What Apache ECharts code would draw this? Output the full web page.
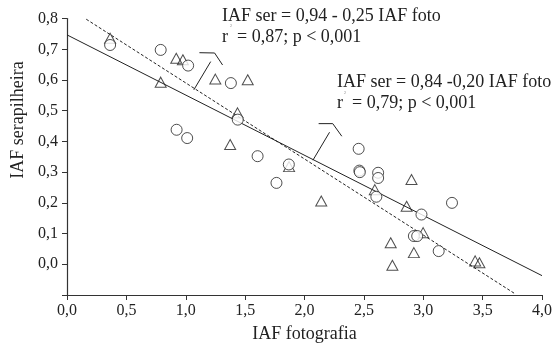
<!DOCTYPE html>
<html>
<head>
<meta charset="utf-8">
<script src="https://cdn.jsdelivr.net/npm/echarts@6/dist/echarts.min.js"></script>
<style>
  html, body { margin: 0; padding: 0; background: #fff; }
  #chart { width: 555px; height: 348px; }
</style>
</head>
<body>
<div id="chart"></div>
<script>
// Leaf area index: litter sampling vs. photographic estimate
const circlePoints = [
  [0.363, 0.714], [0.789, 0.698], [1.02, 0.647], [1.38, 0.590], [1.438, 0.471],
  [0.923, 0.438], [1.012, 0.411], [1.605, 0.352], [1.868, 0.325], [1.764, 0.265],
  [2.456, 0.376], [2.462, 0.305], [2.466, 0.300], [2.62, 0.298], [2.62, 0.281],
  [2.605, 0.220], [3.242, 0.200], [2.985, 0.162], [2.921, 0.092], [2.949, 0.092],
  [3.13, 0.043]
];
const trianglePoints = [
  [0.363, 0.736], [0.92, 0.671], [0.976, 0.666], [0.789, 0.593], [1.249, 0.603],
  [1.522, 0.601], [1.436, 0.493], [1.374, 0.390], [1.87, 0.318], [2.141, 0.206],
  [2.592, 0.243], [2.901, 0.276], [2.86, 0.189], [2.999, 0.103], [2.726, 0.070],
  [2.921, 0.038], [2.74, -0.003], [3.437, 0.011], [3.473, 0.005]
];
// fitted lines (endpoints)
const solidFit = [[0.0, 0.747], [4.0, -0.037]];
const dashedFit = [[0.162, 0.798], [3.777, -0.097]];
// annotation leader lines
const leaderA = [[1.068, 0.568], [1.21, 0.660]];
const hookA = [[1.115, 0.689], [1.243, 0.688], [1.31, 0.649]];
const leaderB = [[2.071, 0.339], [2.211, 0.430]];
const hookB = [[2.119, 0.458], [2.238, 0.458], [2.314, 0.417]];

const xTicks = { min: 0, max: 4, interval: 0.5 };
const yTicks = { min: -0.1, max: 0.8, interval: 0.1 };
const xTitle = 'IAF fotografia';
const yTitle = 'IAF serapilheira';
const eqA = ['IAF ser = 0,94 - 0,25 IAF foto', 'r  = 0,87; p < 0,001'];
const eqB = ['IAF ser = 0,84 -0,20 IAF foto', 'r  = 0,79; p < 0,001'];

const FONT = '"Liberation Serif", "DejaVu Serif", serif';
const INK = '#222';

const comma = v => {
  if (v < -0.05) return '';
  return v.toFixed(1).replace('.', ',');
};

const lineSeries = (data, type) => ({
  type: 'line', data, symbol: 'none', silent: true, z: 3,
  lineStyle: { color: INK, width: 1, type: type || 'solid' }
});

const chart = echarts.init(document.getElementById('chart'), null, { renderer: 'canvas' });
chart.setOption({
  animation: false,
  backgroundColor: '#fff',
  grid: { left: 67, right: 9, top: 18.6, bottom: 52, containLabel: false },
  xAxis: {
    type: 'value', min: xTicks.min, max: xTicks.max, interval: xTicks.interval,
    name: xTitle, nameLocation: 'middle', nameGap: 30,
    nameTextStyle: { fontFamily: FONT, fontSize: 18, color: INK },
    axisLine: { onZero: false, lineStyle: { color: '#333', width: 1.2 } },
    axisTick: { show: true, inside: false, length: 5, lineStyle: { color: '#333' } },
    axisLabel: { formatter: comma, fontFamily: FONT, fontSize: 16, color: INK, margin: 8 },
    splitLine: { show: false }
  },
  yAxis: {
    type: 'value', min: yTicks.min, max: yTicks.max, interval: yTicks.interval,
    axisLine: { show: true, onZero: false, lineStyle: { color: '#333', width: 1.2 } },
    axisTick: { show: true, inside: false, length: 5, lineStyle: { color: '#333' } },
    axisLabel: { formatter: comma, fontFamily: FONT, fontSize: 16, color: INK, margin: 9 },
    splitLine: { show: false }
  },
  series: [
    lineSeries(solidFit),
    lineSeries(dashedFit, [3, 2]),
    lineSeries(leaderA), lineSeries(hookA),
    lineSeries(leaderB), lineSeries(hookB),
    {
      type: 'scatter', data: trianglePoints, symbol: 'triangle', symbolSize: [11, 10], z: 4,
      itemStyle: { color: 'rgba(255,255,255,0)', borderColor: INK, borderWidth: 1 }
    },
    {
      type: 'scatter', data: circlePoints, symbol: 'circle', symbolSize: 11, z: 5,
      itemStyle: { color: '#fff', borderColor: INK, borderWidth: 1 }
    }
  ],
  graphic: [
    {
      type: 'text', x: 18, y: 120, rotation: Math.PI / 2,
      style: { text: yTitle, font: '18px ' + FONT, fill: INK, align: 'center', verticalAlign: 'middle' }
    },
    {
      type: 'text', x: 222, y: 6,
      style: { text: eqA.join('\n'), font: '18px ' + FONT, lineHeight: 21, fill: INK, align: 'left', verticalAlign: 'top' }
    },
    {
      type: 'text', x: 231, y: 26,
      style: { text: '2', font: '5px ' + FONT, fill: '#999', align: 'center', verticalAlign: 'middle' }
    },
    {
      type: 'text', x: 337, y: 72,
      style: { text: eqB.join('\n'), font: '18px ' + FONT, lineHeight: 21, fill: INK, align: 'left', verticalAlign: 'top' }
    },
    {
      type: 'text', x: 345, y: 93,
      style: { text: '2', font: '5px ' + FONT, fill: '#999', align: 'center', verticalAlign: 'middle' }
    }
  ]
});
</script>
</body>
</html>
